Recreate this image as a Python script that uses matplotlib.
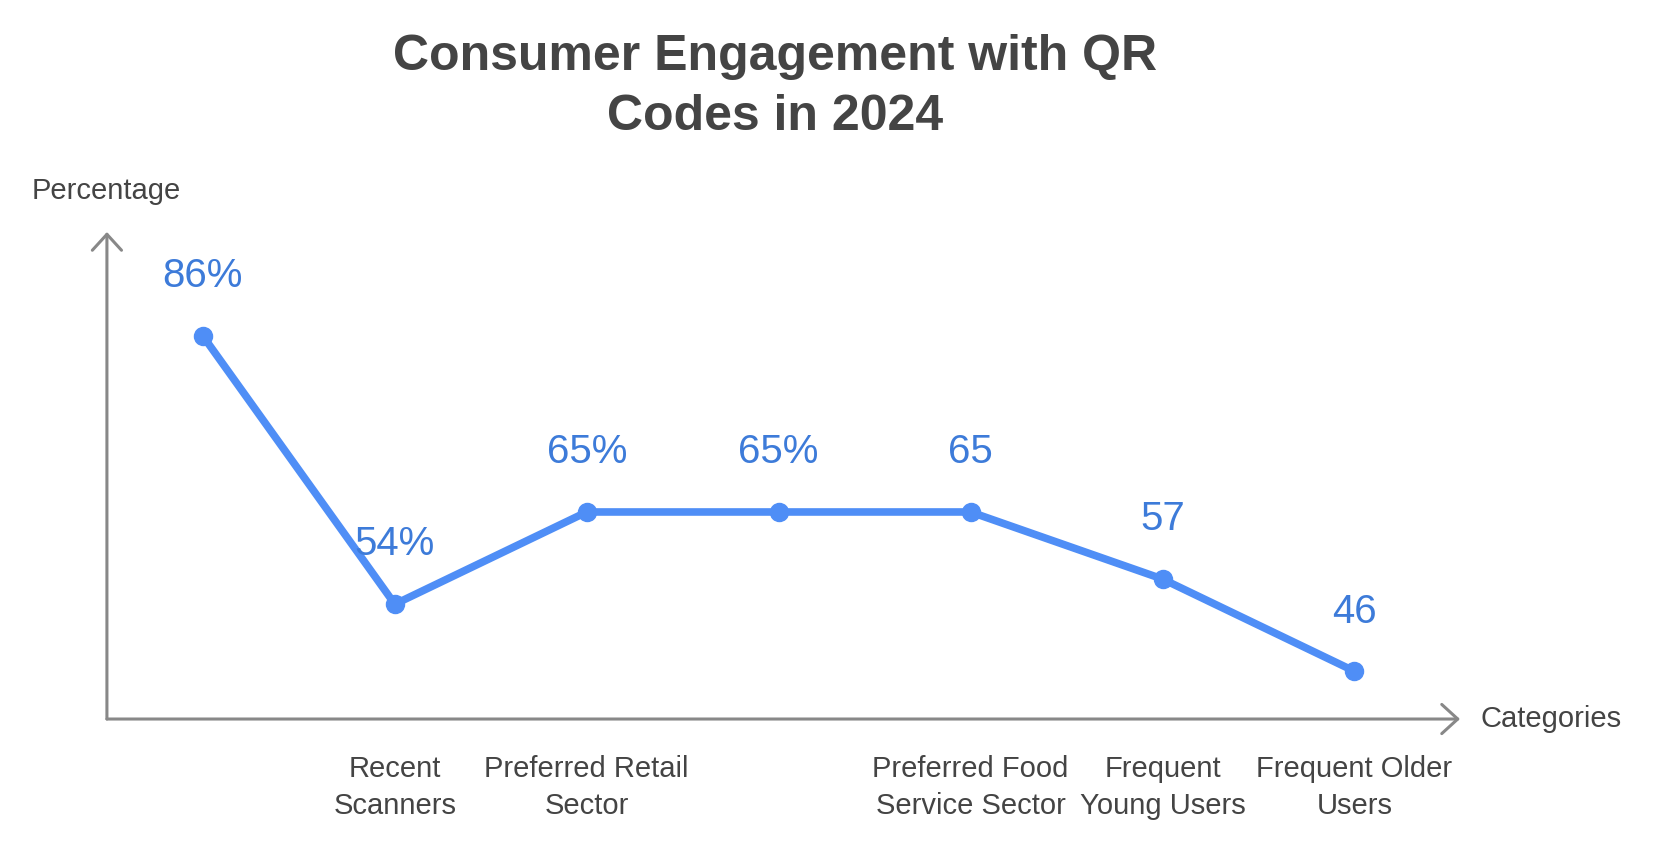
import matplotlib.pyplot as plt

# Data
categories = [
    "",
    "Recent\nScanners",
    "Preferred Retail\nSector",
    "",
    "Preferred Food\nService Sector",
    "Frequent\nYoung Users",
    "Frequent Older\nUsers",
]
values = [86, 54, 65, 65, 65, 57, 46]
value_labels = ["86%", "54%", "65%", "65%", "65", "57", "46"]

line_color = "#4F8EF6"
label_color = "#3D7BD9"
text_color = "#444444"
axis_color = "#888888"

plt.rcParams["font.family"] = ["Liberation Sans", "DejaVu Sans"]

fig = plt.figure(figsize=(16.68, 8.48), dpi=100)
ax = fig.add_axes([0.0641, 0.1521, 0.8112, 0.5743])

x = list(range(len(values)))
ax.plot(x, values, color=line_color, linewidth=5.5, marker="o",
        markersize=13, solid_capstyle="round", zorder=3)

for xi, v, lab in zip(x, values, value_labels):
    ax.annotate(lab, (xi, v), xytext=(0, 43), textcoords="offset points",
                ha="center", va="center", fontsize=29, color=label_color)

ax.set_xlim(-0.5, 6.55)
ax.set_ylim(40.3, 98.4)

for s in ax.spines.values():
    s.set_visible(False)
ax.set_yticks([])
ax.set_xticks(x)
ax.set_xticklabels(categories, fontsize=21, color=text_color, linespacing=1.41)
ax.tick_params(axis="x", length=0, pad=26)

# axis arrows
arrow_kw = dict(arrowstyle="->,head_length=1.15,head_width=1.05",
                color=axis_color, lw=2.2, mutation_scale=10,
                shrinkA=0, shrinkB=0)
ax.annotate("", xy=(0, 1), xytext=(0, 0), xycoords="axes fraction",
            arrowprops=arrow_kw, annotation_clip=False)
ax.annotate("", xy=(1, 0), xytext=(0, 0), xycoords="axes fraction",
            arrowprops=arrow_kw, annotation_clip=False)

fig.text(32 / 1668, 1 - 191 / 848, "Percentage", ha="left", va="center",
         fontsize=21, color=text_color)
fig.text(1481 / 1668, 1 - 719 / 848, "Categories", ha="left", va="center",
         fontsize=21, color=text_color)

fig.text(775 / 1668, 1 - 87 / 848, "Consumer Engagement with QR\nCodes in 2024",
         ha="center", va="center", fontsize=36, fontweight="bold",
         color=text_color, linespacing=1.38)

fig.savefig("out.png", dpi=100)
